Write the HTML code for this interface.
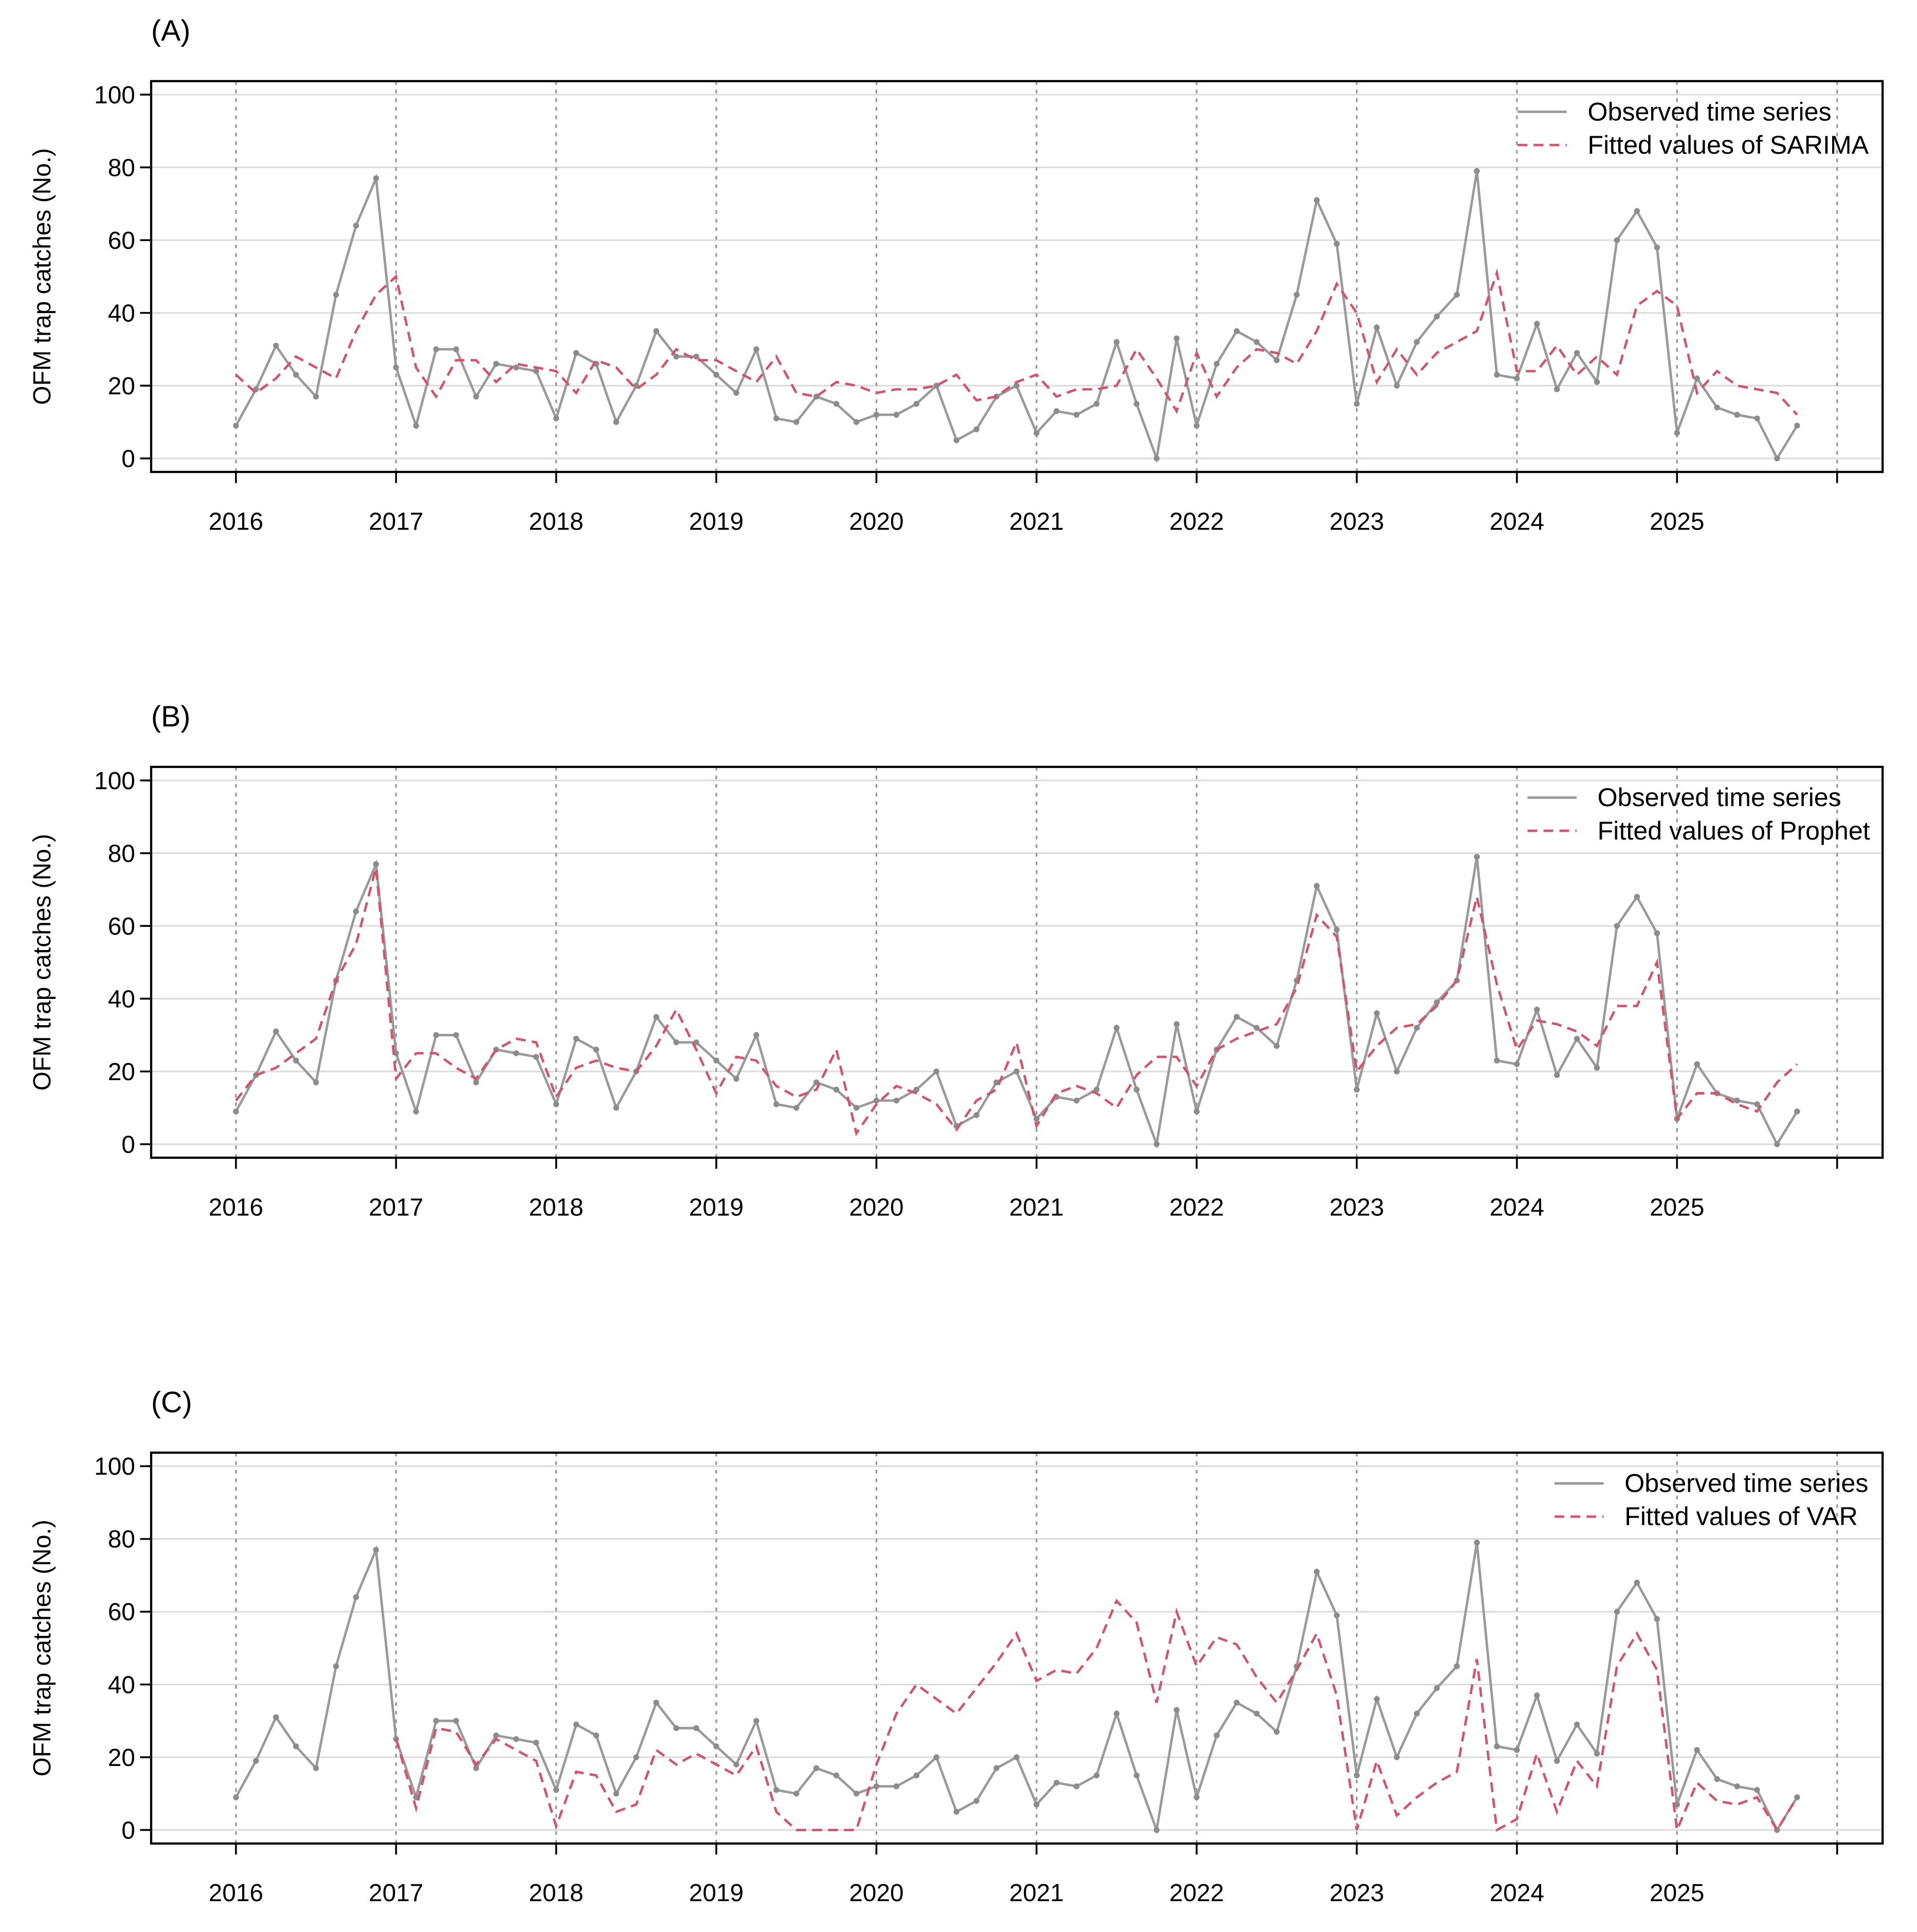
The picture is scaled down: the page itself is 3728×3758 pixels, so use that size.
<!DOCTYPE html>
<html><head><meta charset="utf-8"><style>
html,body{margin:0;padding:0;background:#fff;}
svg{display:block;}
text{font-family:"Liberation Sans",sans-serif;fill:#000;}
</style></head><body>
<svg id="chart" width="3728" height="3758" viewBox="0 0 1560 1572" preserveAspectRatio="none" xmlns="http://www.w3.org/2000/svg"></svg>
<script>
const years = ["2016","2017","2018","2019","2020","2021","2022","2023","2024","2025"];
const yTicks = [0,20,40,60,80,100];
const observed = [9,19,31,23,17,45,64,77,25,9,30,30,17,26,25,24,11,29,26,10,20,35,28,28,23,18,30,11,10,17,15,10,12,12,15,20,5,8,17,20,7,13,12,15,32,15,0,33,9,26,35,32,27,45,71,59,15,36,20,32,39,45,79,23,22,37,19,29,21,60,68,58,7,22,14,12,11,0,9];
const sarima = [23,18,22,28,25,22,35,45,50,25,17,27,27,21,26,25,24,18,27,25,19,23,30,27,27,24,21,28,18,17,21,20,18,19,19,20,23,16,17,21,23,17,19,19,20,30,22,13,29,17,25,30,29,26,35,48,40,21,30,23,29,32,35,51,24,24,31,23,28,23,42,46,42,18,24,20,19,18,12];
const prophet = [12,19,21,25,29,45,55,76,18,25,25,21,18,26,29,28,13,21,23,21,20,27,37,26,14,24,23,16,13,15,26,3,11,16,14,11,4,12,15,28,5,14,16,14,10,19,24,24,16,26,29,31,33,43,63,57,20,27,32,33,38,45,68,44,26,34,33,31,27,38,38,50,7,14,14,11,9,17,22];
const varStart = 8;
const varFit = [25,6,28,27,18,25,22,19,1,16,15,5,7,22,18,21,18,15,23,5,0,0,0,0,18,32,40,36,32,39,46,54,41,44,43,50,63,57,35,60,45,53,51,42,35,44,54,37,0,19,4,9,13,16,47,0,3,21,5,19,12,45,54,44,0,13,8,7,9,0,9];
const panelLabels = ["(A)","(B)","(C)"];
const fitNames = ["Fitted values of SARIMA","Fitted values of Prophet","Fitted values of VAR"];

const NS="http://www.w3.org/2000/svg";
const svg=document.getElementById('chart');
function mk(tag,attrs,parent){const e=document.createElementNS(NS,tag);for(const k in attrs)e.setAttribute(k,attrs[k]);(parent||svg).appendChild(e);return e;}
const L=123,R=1532;
const xYear=k=>192+130.3*k;
const xIdx=i=>192+130.3*i/8;

const panels=[
 {off:0,fit:sarima,start:0,leg:1235},
 {off:558,fit:prophet,start:0,leg:1243},
 {off:1116,fit:varFit,start:varStart,leg:1265}
];
panels.forEach((p,pi)=>{
  const g=mk('g',{});
  
  
  const top=66+p.off,bot=384+p.off;
  const yv=v=>373+p.off-v*2.96;
  yTicks.forEach(t=>{const l=mk('line',{x1:L,x2:R,y1:yv(t),y2:yv(t),stroke:'#dcdcdc','stroke-width':1.3},g);
    });
  for(let k=0;k<=10;k++){const l=mk('line',{x1:xYear(k),x2:xYear(k),y1:top,y2:bot,stroke:'#999','stroke-width':1.4,'stroke-dasharray':'3,4'},g);
    }
  const obsPts=observed.map((v,i)=>xIdx(i)+','+yv(v)).join(' ');
  const ol=mk('polyline',{points:obsPts,fill:'none',stroke:'#9a9a9a','stroke-width':2},g);
  
  observed.forEach((v,i)=>{const c=mk('circle',{cx:xIdx(i),cy:yv(v),r:2.4,fill:'#8c8c8c'},g);
    });
  const fp=p.fit.map((v,i)=>xIdx(i+p.start)+','+yv(v)).join(' ');
  const fl=mk('polyline',{points:fp,fill:'none',stroke:'#d05570','stroke-width':2,'stroke-dasharray':'8,5'},g);
  
  const b=mk('rect',{x:L,y:top,width:R-L,height:bot-top,fill:'none',stroke:'#000','stroke-width':1.8},g);
  
  yTicks.forEach(t=>{mk('line',{x1:L-9,x2:L,y1:yv(t),y2:yv(t),stroke:'#000','stroke-width':1.5},g);
    const tx=mk('text',{x:L-13,y:yv(t)+7,'text-anchor':'end','font-size':20},g);tx.textContent=t;
    });
  for(let k=0;k<=10;k++){mk('line',{x1:xYear(k),x2:xYear(k),y1:bot,y2:bot+9,stroke:'#000','stroke-width':1.5},g);}
  years.forEach((y,k)=>{const tx=mk('text',{x:xYear(k),y:bot+47,'text-anchor':'middle','font-size':20},g);tx.textContent=y;
    });
  const yt=mk('text',{x:0,y:0,'text-anchor':'middle','font-size':20,transform:`translate(41,${(top+bot)/2}) rotate(-90)`},g);
  yt.textContent='OFM trap catches (No.)';
  
  const pl=mk('text',{x:123,y:top-33,'font-size':24},g);pl.textContent=panelLabels[pi];
  
  const lx=p.leg,ly=91+p.off;
  mk('line',{x1:lx,x2:lx+40,y1:ly,y2:ly,stroke:'#9a9a9a','stroke-width':2},g);
  mk('line',{x1:lx,x2:lx+40,y1:ly+27,y2:ly+27,stroke:'#d05570','stroke-width':2,'stroke-dasharray':'8,5'},g);
  const t1=mk('text',{x:lx+57,y:ly+7,'font-size':21},g);t1.textContent='Observed time series';
  
  const t2=mk('text',{x:lx+57,y:ly+34,'font-size':21},g);t2.textContent=fitNames[pi];
  
});
</script>
</body></html>
